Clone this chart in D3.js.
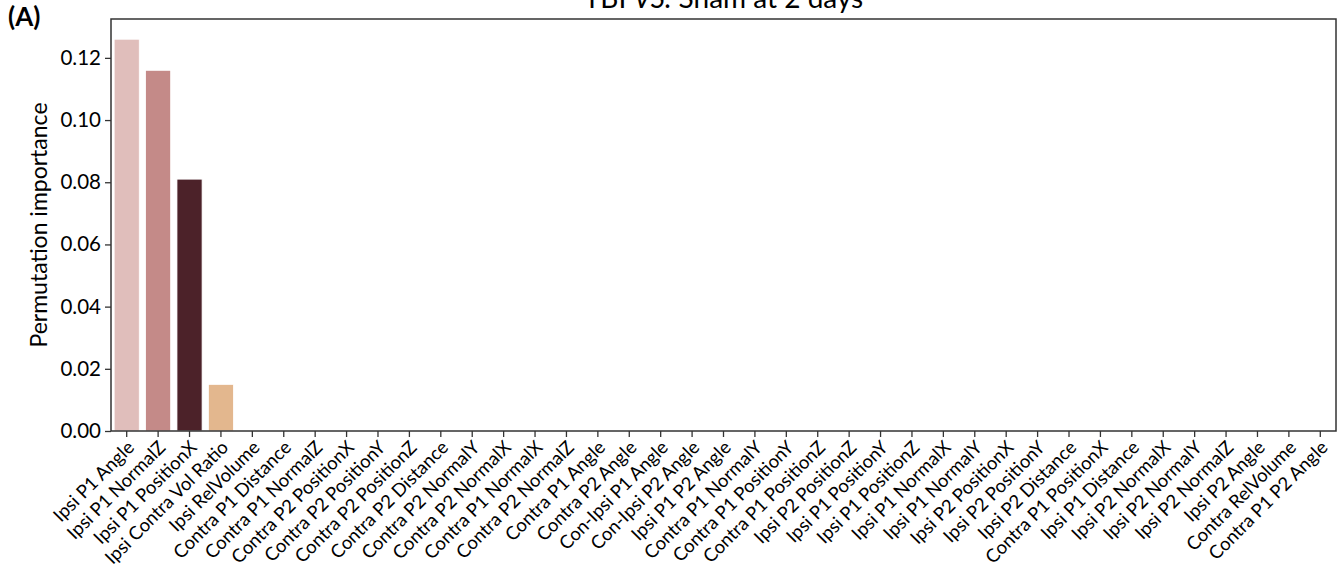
<!DOCTYPE html>
<html>
<head>
<meta charset="utf-8">
<script src="https://cdn.jsdelivr.net/npm/d3@7"></script>
<style>
  html, body { margin: 0; padding: 0; background: #fff; }
  svg { display: block; }
  text { font-family: Lato, "Open Sans", sans-serif; fill: #000; }
</style>
</head>
<body>
<svg id="chart" width="1343" height="568"></svg>
<script>
const categories = [
  "Ipsi P1 Angle", "Ipsi P1 NormalZ", "Ipsi P1 PositionX", "Ipsi Contra Vol Ratio",
  "Ipsi RelVolume", "Contra P1 Distance", "Contra P1 NormalZ", "Contra P2 PositionX",
  "Contra P2 PositionY", "Contra P2 PositionZ", "Contra P2 Distance", "Contra P2 NormalY",
  "Contra P2 NormalX", "Contra P1 NormalX", "Contra P2 NormalZ", "Contra P1 Angle",
  "Contra P2 Angle", "Con-Ipsi P1 Angle", "Con-Ipsi P2 Angle", "Ipsi P1 P2 Angle",
  "Contra P1 NormalY", "Contra P1 PositionY", "Contra P1 PositionZ", "Ipsi P2 PositionZ",
  "Ipsi P1 PositionY", "Ipsi P1 PositionZ", "Ipsi P1 NormalX", "Ipsi P1 NormalY",
  "Ipsi P2 PositionX", "Ipsi P2 PositionY", "Ipsi P2 Distance", "Contra P1 PositionX",
  "Ipsi P1 Distance", "Ipsi P2 NormalX", "Ipsi P2 NormalY", "Ipsi P2 NormalZ",
  "Ipsi P2 Angle", "Contra RelVolume", "Contra P1 P2 Angle"
];
const importance = [
  0.126, 0.116, 0.081, 0.015,
  0, 0, 0, 0, 0, 0, 0, 0, 0, 0, 0, 0, 0, 0, 0, 0,
  0, 0, 0, 0, 0, 0, 0, 0, 0, 0, 0, 0, 0, 0, 0, 0, 0, 0, 0
];
const barColors = ["#e0bebb", "#c48a88", "#4c2229", "#e3b78e"];
const yTicks = [0.00, 0.02, 0.04, 0.06, 0.08, 0.10, 0.12];
const yMax = 0.1325;
const titleText = ["TBI ", "VS.", " Sham at 2 days"];
const panelLabel = "(A)";
const yLabel = "Permutation importance";

const svg = d3.select("#chart");
const m = { left: 111, right: 1336, top: 19, bottom: 431 };

const x = d3.scaleBand().domain(categories).range([m.left, m.right]).paddingInner(0.2).paddingOuter(0.1);
const y = d3.scaleLinear().domain([0, yMax]).range([m.bottom, m.top]);

// bars
svg.append("g").selectAll("rect")
  .data(categories.map((c, i) => ({ c, v: importance[i], i })))
  .join("rect")
  .attr("x", d => x(d.c))
  .attr("width", x.bandwidth())
  .attr("y", d => y(d.v))
  .attr("height", d => y(0) - y(d.v))
  .attr("fill", d => barColors[d.i % barColors.length])
  .attr("stroke", "#fff")
  .attr("stroke-width", 0.8);

// frame
svg.append("rect")
  .attr("x", m.left).attr("y", m.top)
  .attr("width", m.right - m.left).attr("height", m.bottom - m.top)
  .attr("fill", "none").attr("stroke", "#333").attr("stroke-width", 1.5);

// y axis
const yAxis = svg.append("g").attr("transform", `translate(${m.left},0)`)
  .call(d3.axisLeft(y).tickValues(yTicks).tickFormat(d3.format(".2f")).tickSize(6).tickPadding(4));
yAxis.select(".domain").remove();
yAxis.selectAll(".tick line").attr("stroke", "#333").attr("stroke-width", 1.3);
yAxis.selectAll(".tick text").style("font-size", "20.5px").style("font-family", "Lato, 'Open Sans', sans-serif").attr("fill", "#000");

// x axis
const xAxis = svg.append("g").attr("transform", `translate(0,${m.bottom})`)
  .call(d3.axisBottom(x).tickSize(6).tickPadding(3));
xAxis.select(".domain").remove();
xAxis.selectAll(".tick line").attr("stroke", "#333").attr("stroke-width", 1.3);
xAxis.selectAll(".tick text")
  .style("font-size", "18.5px").style("font-family", "Lato, 'Open Sans', sans-serif").attr("fill", "#000")
  .attr("text-anchor", "end")
  .attr("dy", "0.35em")
  .attr("transform", "translate(4,13) rotate(-45)")
  .attr("x", 0).attr("y", 0);

// y label
svg.append("text")
  .attr("transform", `translate(47,${(m.top + m.bottom) / 2}) rotate(-90)`)
  .attr("text-anchor", "middle")
  .style("font-size", "23px")
  .text(yLabel);

// title (partly cut off at top)
const t = svg.append("text")
  .attr("x", (m.left + m.right) / 2).attr("y", 8)
  .attr("text-anchor", "middle")
  .style("font-size", "28px");
t.selectAll("tspan").data(titleText).join("tspan")
  .style("font-style", (d, i) => i === 1 ? "italic" : "normal")
  .text(d => d);

// panel label
svg.append("text")
  .attr("x", 8).attr("y", 26)
  .style("font-size", "26px").style("font-weight", "bold")
  .text(panelLabel);
</script>
</body>
</html>
